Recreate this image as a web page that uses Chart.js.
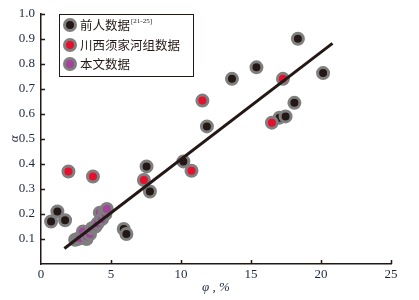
<!DOCTYPE html>
<html>
<head>
<meta charset="utf-8">
<script src="https://cdn.jsdelivr.net/npm/chart.js@4.4.0/dist/chart.umd.min.js"></script>
<style>
  html, body { margin: 0; padding: 0; background: #fff; }
  #wrap { width: 419px; height: 300px; }
</style>
</head>
<body>
<div id="wrap"><canvas id="graph"></canvas></div>
<script>
// 前人数据
var prevX = [0.72, 1.17, 1.72, 3.25, 5.91, 6.1, 7.54, 7.78, 10.17, 11.85, 13.64, 15.39, 17.04, 17.47, 18.1, 18.35, 20.15];
var prevY = [0.17, 0.21, 0.175, 0.10, 0.14, 0.12, 0.39, 0.29, 0.41, 0.55, 0.74, 0.786, 0.585, 0.59, 0.644, 0.90, 0.763];
// 川西须家河组数据
var redX = [1.96, 3.71, 7.35, 10.75, 11.53, 16.49, 17.28];
var redY = [0.37, 0.35, 0.336, 0.373, 0.653, 0.565, 0.74];
// 本文数据
var ownX = [2.44, 2.6, 2.8, 3.0, 3.3, 3.5, 3.64, 3.9, 4.05, 4.2, 4.36, 4.55, 4.6, 4.7];
var ownY = [0.097, 0.10, 0.103, 0.13, 0.11, 0.12, 0.143, 0.15, 0.163, 0.205, 0.18, 0.21, 0.20, 0.22];
// 拟合线
var fitX = [1.67, 20.82];
var fitY = [0.062, 0.882];

var xTicks = [0, 5, 10, 15, 20, 25];
var yTicks = [0.1, 0.2, 0.3, 0.4, 0.5, 0.6, 0.7, 0.8, 0.9, 1.0];
var seriesNames = ["前人数据", "川西须家河组数据", "本文数据"];
var seriesColors = ["#231815", "#e60f2d", "#a3449a"];

var ringColor = "#7f7f7f";
var textColor = "#1f2740";

function toPoints(xs, ys) {
  var pts = [];
  for (var i = 0; i < xs.length; i++) pts.push({ x: xs[i], y: ys[i] });
  return pts;
}

function pointSet(label, xs, ys, color, order) {
  return {
    label: label,
    data: toPoints(xs, ys),
    backgroundColor: color,
    borderColor: ringColor,
    borderWidth: 3,
    pointRadius: 5.5,
    pointHoverRadius: 5.5,
    order: order
  };
}

// 刻度线向内 + 带框图例
var extras = {
  id: "extras",
  afterDraw: function(c) {
    var ctx = c.ctx;
    var xs = c.scales.x, ys = c.scales.y;
    var area = c.chartArea;
    ctx.save();
    ctx.strokeStyle = "#231815";
    ctx.lineWidth = 1.5;
    ctx.beginPath();
    xTicks.forEach(function(v) {
      if (v === 0) return;
      var px = Math.round(xs.getPixelForValue(v)) + 0.5;
      ctx.moveTo(px, area.bottom);
      ctx.lineTo(px, area.bottom - 4);
    });
    yTicks.forEach(function(v) {
      var py = Math.round(ys.getPixelForValue(v)) + 0.5;
      ctx.moveTo(area.left, py);
      ctx.lineTo(area.left + 4, py);
    });
    ctx.stroke();

    // legend box
    var bx = 59, by = 14, bw = 134, bh = 62;
    ctx.lineWidth = 1;
    ctx.strokeStyle = "#231815";
    ctx.strokeRect(bx + 0.5, by + 0.5, bw, bh);
    var rows = [25, 45, 64];
    ctx.textBaseline = "middle";
    ctx.textAlign = "left";
    for (var i = 0; i < seriesNames.length; i++) {
      ctx.beginPath();
      ctx.arc(70, rows[i], 5.5, 0, Math.PI * 2);
      ctx.fillStyle = seriesColors[i];
      ctx.fill();
      ctx.lineWidth = 3;
      ctx.strokeStyle = ringColor;
      ctx.stroke();
      ctx.fillStyle = "#231815";
      ctx.font = "12.5px 'Noto Sans CJK SC'";
      ctx.fillText(seriesNames[i], 80, rows[i]);
      if (i === 0) {
        var w = ctx.measureText(seriesNames[i]).width;
        ctx.font = "7px 'Liberation Serif'";
        ctx.fillText("[21-25]", 80 + w + 1, rows[i] - 4);
      }
    }
    ctx.restore();
  }
};

var ctx = document.getElementById("graph").getContext("2d");
var chart = new Chart(ctx, {
  type: "scatter",
  data: {
    datasets: [
      {
        label: "fit",
        data: toPoints(fitX, fitY),
        showLine: true,
        borderColor: "#231815",
        borderWidth: 3,
        pointRadius: 0,
        pointHoverRadius: 0,
        fill: false,
        order: 0
      },
      pointSet(seriesNames[0], prevX, prevY, seriesColors[0], 3),
      pointSet(seriesNames[1], redX, redY, seriesColors[1], 2),
      pointSet(seriesNames[2], ownX, ownY, seriesColors[2], 1)
    ]
  },
  options: {
    responsive: true,
    maintainAspectRatio: false,
    animation: false,
    layout: { padding: { top: 12, right: 28, left: 0, bottom: 0 } },
    plugins: {
      legend: { display: false },
      tooltip: { enabled: false }
    },
    scales: {
      x: {
        type: "linear",
        min: 0,
        max: 25,
        afterBuildTicks: function(s) { s.ticks = xTicks.map(function(v) { return { value: v }; }); },
        afterFit: function(s) { s.height = 36; },
        border: { display: true, color: "#231815", width: 1.5 },
        grid: { display: false, drawTicks: false },
        ticks: {
          color: textColor,
          padding: 3,
          maxRotation: 0,
          autoSkip: false,
          font: { family: "'Liberation Serif'", size: 13 },
          callback: function(v) { return String(v); }
        },
        title: {
          display: true,
          text: "φ , %",
          color: textColor,
          padding: { top: 0, bottom: 5 },
          font: { family: "'Liberation Serif'", size: 13, style: "italic" }
        }
      },
      y: {
        type: "linear",
        min: 0,
        max: 1,
        afterBuildTicks: function(s) { s.ticks = yTicks.map(function(v) { return { value: v }; }); },
        afterFit: function(s) { s.width = 41; },
        border: { display: true, color: "#231815", width: 1.5 },
        grid: { display: false, drawTicks: false },
        ticks: {
          color: textColor,
          padding: 6,
          autoSkip: false,
          font: { family: "'Liberation Serif'", size: 13 },
          callback: function(v) { return v.toFixed(1); }
        },
        title: {
          display: true,
          text: "α",
          color: textColor,
          padding: { top: 7, bottom: 0 },
          font: { family: "'Liberation Serif'", size: 13, style: "italic" }
        }
      }
    }
  },
  plugins: [extras]
});
</script>
</body>
</html>
